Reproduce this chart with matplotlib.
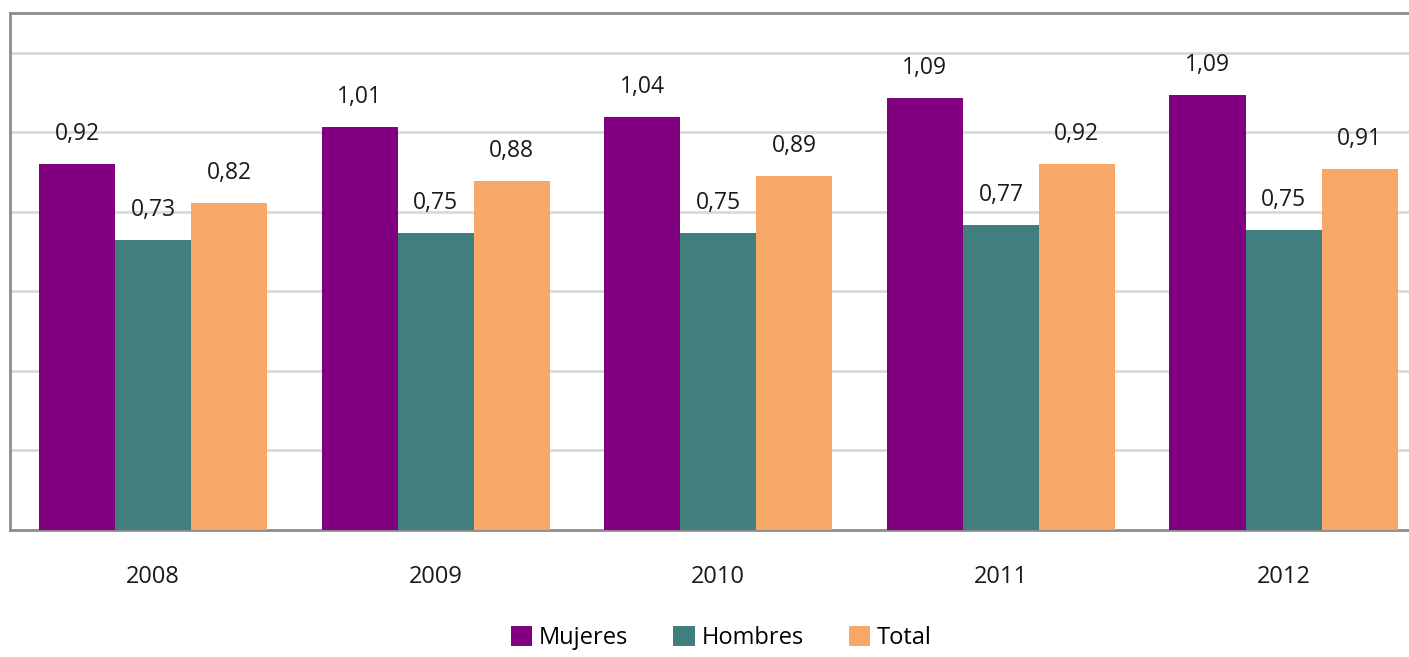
import matplotlib.pyplot as plt
import numpy as np

years = ["2008", "2009", "2010", "2011", "2012"]
mujeres = [0.920, 1.013, 1.038, 1.086, 1.093]
hombres = [0.729, 0.746, 0.746, 0.766, 0.754]
total = [0.822, 0.877, 0.889, 0.920, 0.907]
series_names = ["Mujeres", "Hombres", "Total"]
colors = ["#800080", "#417F7E", "#F7A767"]

plt.rcParams["font.family"] = ["Open Sans", "DejaVu Sans"]

fig = plt.figure(figsize=(14.09, 6.57), dpi=100)
ax = fig.add_axes([10 / 1409, 127 / 657, 1 - 10 / 1409, (530 - 13) / 657])

x = np.arange(len(years))
width = 0.269
for i, (vals, name, color) in enumerate(zip([mujeres, hombres, total], series_names, colors)):
    pos = x + (i - 1) * width
    bars = ax.bar(pos, vals, width=width, color=color, label=name, zorder=3)
    for b, v in zip(bars, vals):
        ax.annotate(f"{v:.2f}".replace(".", ","),
                    (b.get_x() + b.get_width() / 2, v),
                    xytext=(0, 13), textcoords="offset points",
                    ha="center", va="bottom", fontsize=16.5, color="#1a1a1a")

ax.set_xlim(-0.506, 4.444)
ax.set_ylim(0, 1.3)
ax.set_yticks(np.arange(0.2, 1.21, 0.2))
ax.yaxis.grid(True, color="#d9d9d9", linewidth=2, zorder=0)
ax.set_yticklabels([])
ax.tick_params(axis="y", length=0)
ax.set_xticks(x)
ax.set_xticklabels(years, fontsize=17, color="#1a1a1a")
ax.tick_params(axis="x", length=0, pad=25)

for side in ["left", "top", "bottom"]:
    ax.spines[side].set_color("#8c8c8c")
    ax.spines[side].set_linewidth(2)
ax.spines["right"].set_visible(False)

fig.legend(loc="lower center", bbox_to_anchor=(0.512, -0.022), ncol=3, frameon=False,
           fontsize=17, handlelength=0.9, handleheight=0.9, handletextpad=0.3,
           columnspacing=1.9)

fig.savefig("out.png", dpi=100)
